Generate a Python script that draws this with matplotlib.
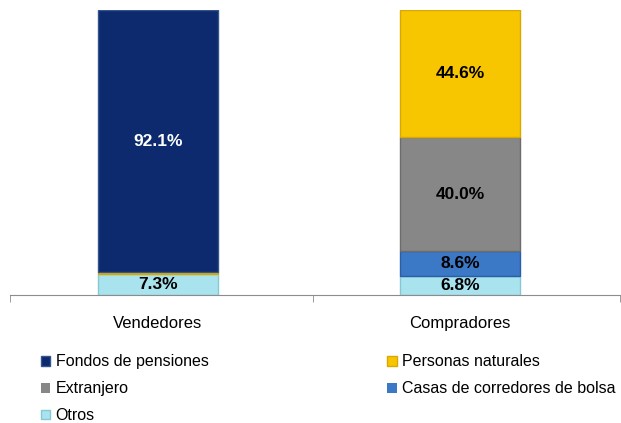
import matplotlib
matplotlib.use("Agg")
import matplotlib.pyplot as plt
import numpy as np

plt.rcParams['font.family'] = ['Liberation Sans', 'DejaVu Sans']

categories = ["Vendedores", "Compradores"]
series_names = ["Otros", "Casas de corredores de bolsa", "Extranjero", "Personas naturales", "Fondos de pensiones"]
otros = [7.3, 6.8]
casas = [0.0, 8.6]
extranjero = [0.0, 40.0]
personas = [0.6, 44.6]
fondos = [92.1, 0.0]
colors = {"Otros": "#a9e3ee", "Casas de corredores de bolsa": "#3b78c6",
          "Extranjero": "#878787", "Personas naturales": "#f7c600",
          "Fondos de pensiones": "#0c2a6d"}
edges = {"Otros": "#86c9d6", "Casas de corredores de bolsa": "#2a5ea6",
         "Extranjero": "#6c6c6c", "Personas naturales": "#d8a900",
         "Fondos de pensiones": "#34548f"}
label_color = {"Fondos de pensiones": "white"}

values = {"Otros": otros, "Casas de corredores de bolsa": casas, "Extranjero": extranjero,
          "Personas naturales": personas, "Fondos de pensiones": fondos}

fig = plt.figure(figsize=(6.21, 4.23), dpi=100)
ax = fig.add_axes([10/621, (423-295)/423, 610/621, 285/423])
x = np.arange(len(categories))
bottom = np.zeros(len(categories))
handles = {}
for name in series_names:
    v = np.array(values[name])
    lw = [1.0 if vi > 0 else 0.0 for vi in v]
    bars = ax.bar(x, v, 0.4, bottom=bottom, color=colors[name], edgecolor=edges[name],
                  linewidth=lw, label=name)
    handles[name] = bars
    for xi, vi, bi in zip(x, v, bottom):
        if vi >= 5:
            ax.text(xi, bi + vi / 2, f"{vi:.1f}%", ha='center', va='center', fontsize=12.5,
                    fontweight='bold', color=label_color.get(name, 'black'))
    bottom += v

ax.set_xlim(-0.49, 1.53)
ax.set_ylim(0, 100)
ax.set_yticks([])
for s in ['left', 'right', 'top']:
    ax.spines[s].set_visible(False)
ax.spines['bottom'].set_color('#8c8c8c')
ax.set_xticks(x)
ax.set_xticklabels(categories, fontsize=12)
ax.tick_params(axis='x', which='major', length=0, pad=15)
ax.set_xticks([-0.49, 0.515, 1.53], minor=True)
ax.tick_params(axis='x', which='minor', length=5, color='#8c8c8c')

order = ["Fondos de pensiones", "Extranjero", "Otros", "Personas naturales", "Casas de corredores de bolsa"]
fig.legend([handles[n] for n in order], order, loc='upper left', bbox_to_anchor=(0.066, 0.162),
           ncol=2, frameon=False, fontsize=11.5, handlelength=0.57, handleheight=0.57,
           handletextpad=0.35, labelspacing=0.74, columnspacing=11.2, borderaxespad=0,
           borderpad=0)

fig.savefig("out.png", dpi=100)
